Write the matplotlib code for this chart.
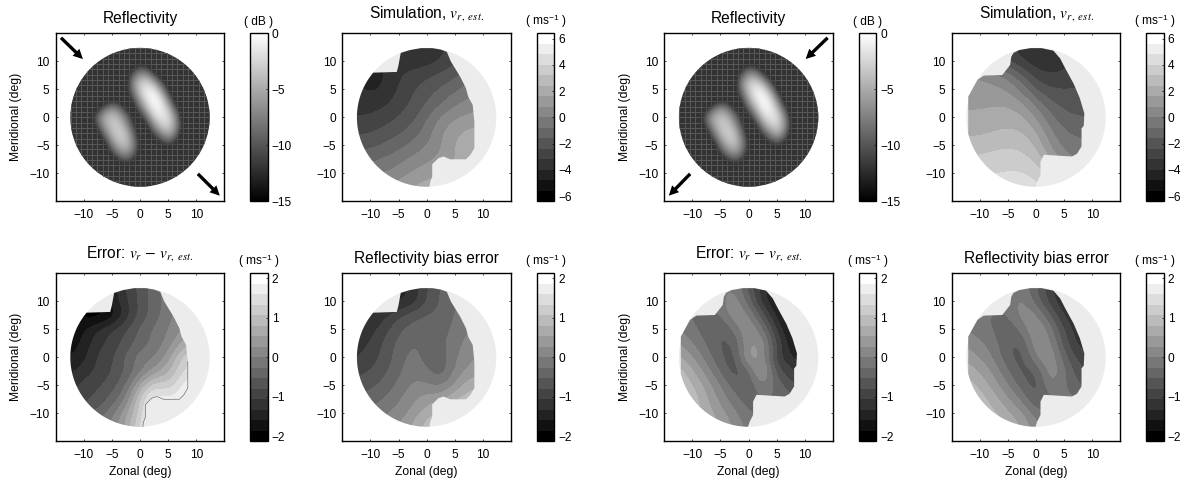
import numpy as np
import matplotlib
matplotlib.use('Agg')
import matplotlib.pyplot as plt
from matplotlib.colors import ListedColormap, Normalize
from matplotlib.cm import ScalarMappable
from matplotlib.patches import Polygon, Circle

plt.rcParams['font.family'] = ['Liberation Sans', 'DejaVu Sans']
plt.rcParams['mathtext.fontset'] = 'stix'
plt.rcParams['axes.unicode_minus'] = True

W, H = 1186, 483

# velocity grids: rows go from y=12.5 down to y=-12.5, columns x=-12.5 to 12.5
grid_step = 2.5
bg = -13

# reflectivity grid is finer: rows y=10 to y=-10, columns x=-8.75 to 8.75, step 1.25
reflect_step = 1.25
reflect = [
    [bg, bg, bg, bg, bg, bg, -13, -12.5, -13, bg, bg, bg, bg, bg, bg],
    [bg, bg, bg, bg, bg, bg, -12, -9.5, -10.5, -13, bg, bg, bg, bg, bg],
    [bg, bg, bg, bg, bg, -13, -9, -6, -6, -10, -13, bg, bg, bg, bg],
    [bg, bg, bg, bg, bg, -13, -7, -3.5, -2.5, -5, -10, bg, bg, bg, bg],
    [bg, bg, bg, bg, bg, -12.5, -8, -3, -1, -1.5, -6, -12, bg, bg, bg],
    [bg, bg, bg, bg, bg, -13, -10, -4.5, -1, -0.2, -2.5, -9, bg, bg, bg],
    [bg, bg, -12, -10, -11, -13, -12, -7, -2.5, -0.2, -1, -5.5, -12, bg, bg],
    [bg, -11.5, -7.5, -5.5, -7, -11, -13, -10, -5, -1, -0.8, -3, -9, bg, bg],
    [bg, -8.5, -5, -3.7, -4.5, -8, -12, -12.5, -8.5, -3, -1.5, -2, -6.5, -13, bg],
    [bg, -10, -5.5, -3.3, -3.2, -6, -11, bg, -11.5, -6, -3, -2.5, -6, -12, bg],
    [bg, -12.5, -7.5, -4, -2.8, -4, -9, bg, bg, -9.5, -6, -4, -7, -13, bg],
    [bg, bg, -10.5, -5.5, -3.2, -3.5, -7.5, -12.5, bg, -12, -9.5, -7.5, -10, bg, bg],
    [bg, bg, -13, -8, -4.8, -4, -7, -12, bg, bg, -12.5, -11, -12.5, bg, bg],
    [bg, bg, bg, -11, -7.5, -6, -8.5, -12.5, bg, bg, bg, bg, bg, bg, bg],
    [bg, bg, bg, -13, -11, -9.5, -11, bg, bg, bg, bg, bg, bg, bg, bg],
    [bg, bg, bg, bg, bg, -12.5, -13, bg, bg, bg, bg, bg, bg, bg, bg],
    [bg, bg, bg, bg, bg, bg, bg, bg, bg, bg, bg, bg, bg, bg, bg],
]

sim_left = [
    [-4, -4, -4, -3.8, -3.8, -3.8, -3.4, -3, -2.5, -2, -2],
    [-4, -4, -4, -3.6, -3.7, -3.6, -3.2, -2.6, -2, -1.5, -1],
    [-4, -4.2, -4.1, -3.3, -2.9, -2.6, -2.2, -1.8, -1.2, -1, -1],
    [-3.9, -4.2, -4, -3.1, -2.5, -2, -1.5, -1, -0.4, 0, 0],
    [-3.6, -3.6, -3.4, -2.8, -2.3, -1.6, -0.9, -0.2, 0.3, 0.5, 0.5],
    [-3.2, -3.1, -2.8, -2.4, -1.9, -0.9, 0.1, 0.7, 1, 1.1, 1.1],
    [-2.6, -2.5, -2.2, -1.8, -1.3, -0.5, 0.7, 1.4, 1.8, 1.9, 1.9],
    [-2, -1.8, -1.5, -1.1, -0.6, 0, 0.7, 1.7, 2.1, 2.1, 2.1],
    [-1.2, -1, -0.7, -0.3, 0.2, 0.6, 1, 1.6, 2.1, 2.1, 2.1],
    [-0.3, -0.2, 0, 0.4, 0.9, 1.3, 1.5, 1.8, 2.1, 2.1, 2.1],
    [0.5, 0.6, 0.8, 1.2, 1.7, 2, 2, 2, 2.1, 2.1, 2.1],
]

sim_right = [
    [-2, -2, -2.5, -3, -3.6, -4, -4, -3.6, -3.2, -3, -3],
    [0, -1, -2, -2.5, -3.2, -3.8, -3.8, -3.5, -3, -3, -3],
    [0.9, 0.7, 0.4, -0.3, -1.6, -2.8, -3.2, -3, -2.8, -2.6, -2.6],
    [1.2, 1.1, 1, 0.7, -0.3, -1.8, -2.3, -2.4, -2.3, -2.2, -2],
    [1.5, 1.5, 1.5, 1.5, 0.9, -0.3, -1.5, -1.9, -2, -2, -2],
    [1.7, 1.7, 1.9, 2, 1.8, 0.7, -0.6, -1.4, -1.6, -1.6, -1.6],
    [2.2, 2.2, 2.4, 2.5, 2.4, 1.6, 0.1, -0.8, -1, -1.2, -1.2],
    [2.7, 2.8, 3, 3.1, 3, 2.3, 0.7, -0.3, -0.6, -0.7, -0.7],
    [3.3, 3.4, 3.5, 3.6, 3.5, 3, 1.5, 0.3, 0, 0, 0],
    [3.8, 3.9, 4, 4.1, 4.1, 3.7, 3, 1, 0, 0, 0],
    [4.3, 4.3, 4.4, 4.4, 4.5, 4.3, 3.8, 2, 0, 0, 0],
]

err_left = [
    [-1.3, -1.5, -1.7, -1.5, -1, -0.7, -0.4, -0.1, 0.2, 0.3, 0.3],
    [-1.7, -1.9, -1.9, -1.5, -1.1, -0.7, -0.4, -0.1, 0.2, 0.4, 0.4],
    [-1.8, -2, -2.05, -1.8, -1.2, -0.7, -0.4, -0.1, 0.2, 0.4, 0.4],
    [-1.9, -1.6, -1.3, -1.05, -0.8, -0.45, -0.2, 0, 0.3, 0.5, 0.6],
    [-1.8, -1.5, -1.15, -0.95, -0.7, -0.4, -0.2, 0.1, 0.55, 0.9, 1],
    [-1.6, -1.4, -1, -0.85, -0.45, -0.1, -0.05, 0.4, 1.2, 1.4, 1.5],
    [-1.4, -1.2, -1, -0.8, -0.5, -0.1, 0.35, 0.75, 1.3, 1.6, 1.8],
    [-1.2, -0.95, -0.85, -0.65, -0.3, 0.6, 1.3, 1.1, 1.7, 1.9, 2],
    [-1, -0.9, -0.7, -0.45, 0, 1.2, 1.9, 1.6, 1.9, 2, 2],
    [-0.7, -0.6, -0.45, -0.1, 0.5, 1.2, 2.1, 2.1, 2.1, 2.1, 2.1],
    [-0.4, -0.3, -0.1, 0.1, 0.6, 1.4, 2.1, 2.1, 2.1, 2.1, 2.1],
]

bias_left = [
    [-1.1, -1.2, -1.3, -1.4, -1.3, -0.8, -0.5, -0.3, -0.2, -0.1, -0.1],
    [-1.3, -1.4, -1.5, -1.45, -1.25, -0.8, -0.5, -0.3, -0.15, -0.05, 0],
    [-1.4, -1.4, -1.15, -0.85, -0.65, -0.5, -0.45, -0.25, -0.1, 0, 0],
    [-1.35, -1.2, -0.9, -0.6, -0.4, -0.35, -0.4, -0.2, 0, 0.1, 0.1],
    [-1.2, -1.05, -0.75, -0.45, -0.25, -0.3, -0.35, -0.1, 0.1, 0.2, 0.2],
    [-1.1, -0.95, -0.7, -0.4, -0.15, -0.4, -0.45, -0.05, 0.2, 0.3, 0.3],
    [-0.9, -0.8, -0.6, -0.35, -0.05, -0.2, -0.5, 0.05, 0.35, 0.45, 0.5],
    [-0.7, -0.6, -0.45, -0.2, 0.05, 0.05, -0.1, 0.3, 0.7, 0.8, 0.8],
    [-0.5, -0.4, -0.25, -0.05, 0.2, 0.4, 0.5, 0.8, 1, 1, 1],
    [-0.3, -0.2, -0.05, 0.1, 0.35, 0.7, 0.9, 1, 1, 1, 1],
    [-0.1, 0, 0.15, 0.3, 0.6, 0.95, 1.1, 1.1, 1, 1, 1],
]

err_right = [
    [-0.3, -0.3, -0.2, -0.1, 0, -0.6, -1.2, -1.7, -2, -2, -2],
    [-0.3, -0.3, -0.2, -0.1, 0.25, -0.4, -1.2, -1.7, -2, -2, -2],
    [-0.2, -0.3, -0.4, -0.3, 0.3, 0.1, -0.7, -1.4, -1.9, -2, -2],
    [0, -0.2, -0.4, -0.6, -0.2, 0.35, -0.2, -1.1, -1.7, -2, -2],
    [0.3, 0, -0.3, -0.6, -0.55, 0.3, 0.3, -0.8, -1.5, -1.9, -2],
    [0.6, 0.3, -0.1, -0.5, -0.75, 0.55, 0.2, -1, -1.3, -1.6, -1.9],
    [1, 0.6, 0.15, -0.3, -0.75, -0.4, 0.65, -0.7, -1, -1.2, -1.4],
    [1.1, 0.85, 0.45, 0, -0.4, -0.6, 0.1, -0.35, -0.7, -1, -1],
    [1.1, 1, 0.6, 0.2, -0.2, -0.4, -0.3, -0.3, -0.4, -0.5, -0.5],
    [1.1, 1, 0.7, 0.4, 0.1, -0.3, -0.3, -0.3, -0.3, -0.3, -0.3],
    [1.1, 1, 0.8, 0.5, 0.25, -0.1, -0.1, -0.1, -0.1, -0.2, -0.2],
]

bias_right = [
    [-0.2, -0.2, -0.2, -0.1, -0.1, -0.5, -1, -1.4, -1.7, -1.8, -1.8],
    [-0.2, -0.2, -0.2, -0.1, 0.1, -0.4, -0.95, -1.3, -1.6, -1.8, -1.8],
    [-0.2, -0.2, -0.3, -0.3, 0.2, 0.1, -0.55, -1.1, -1.4, -1.6, -1.6],
    [0, -0.15, -0.3, -0.5, -0.15, 0.35, -0.1, -0.85, -1.25, -1.5, -1.6],
    [0.2, 0.05, -0.15, -0.55, -0.55, 0.3, 0.1, -0.7, -1.15, -1.3, -1.4],
    [0.45, 0.25, -0.05, -0.5, -0.7, 0.1, 0.3, -0.45, -0.9, -1.1, -1.2],
    [0.75, 0.5, 0.2, -0.25, -0.65, -0.6, 0.3, -0.2, -0.7, -0.9, -1],
    [0.95, 0.75, 0.4, 0, -0.4, -0.75, 0.1, -0.25, -0.5, -0.7, -0.8],
    [1.1, 0.95, 0.65, 0.3, -0.1, -0.6, -0.3, -0.2, -0.2, -0.4, -0.5],
    [1.2, 1.1, 0.85, 0.6, 0.35, -0.2, -0.3, -0.2, -0.2, -0.3, -0.3],
    [1.3, 1.2, 1, 0.8, 0.5, 0.1, 0, 0, -0.1, -0.2, -0.2],
]

# edge of the retrieved area, clockwise from the notch at the top left
edge_left = [(-5.3, 8.1), (-5, 9.3), (-4.6, 11.5), (-3, 12), (-1, 12.35), (1, 12.35), (2.5, 12.1),
             (3.6, 11.7), (4.3, 10), (6, 7.2), (7, 5.2), (7.4, 3.7), (8.2, 2.2), (8.5, -0.8),
             (8.5, -5.5), (7.8, -6.7), (7, -7.5), (4.2, -7.5), (3, -7), (2.1, -7.3), (1, -8.4),
             (1, -10.6), (0.65, -11.5), (0.5, -12.4)]
edge_right = [(-6, 7.55), (-4.6, 9.35), (-4.4, 10.8), (-4, 11.5), (-3, 12), (-1, 12.35), (1, 12.35),
              (3.1, 11.9), (4.3, 10.5), (5.2, 8.75), (6.7, 6), (7.8, 3.4), (8.6, 0.7), (8.5, -1.5),
              (8.1, -2), (8.1, -5.2), (7.3, -6.5), (6.4, -7), (1.4, -6.7), (0.8, -7.9), (0.8, -10.3),
              (0.2, -11.5), (-0.1, -12.4)]

ticks_main = [-10, -5, 0, 5, 10]
ticks_sim = [-6, -4, -2, 0, 2, 4, 6]
ticks_err = [-2, -1, 0, 1, 2]
ticks_db = [-15, -10, -5, 0]

arrows_left = [((-14.06, 14.2), (-10.15, 10.4)), ((10.3, -10.1), (14.2, -14))]
arrows_right = [((14.06, 14.2), (10.15, 10.4)), ((-10.4, -10.1), (-14.2, -14))]

radius = 12.4
bands = ListedColormap([str(g) for g in np.linspace(0, 1, 16)])
fill_gray = '0.925'
ms_unit = r'( ms$^{\mathregular{-1}}$ )'
err_title = r'Error: $v_{r}\,-\,v_{r,\ est.}$'
sim_title = r'Simulation, $v_{r,\ est.}$'

fig = plt.figure(figsize=(W / 100, H / 100), dpi=100)


def px_axes(x0, x1, y0, y1):
    return fig.add_axes([x0 / W, 1 - y1 / H, (x1 - x0) / W, (y1 - y0) / H])


def mask_points(edge, flat_left):
    # runs on along the circle from the end of the edge, back to its start
    x0, y0 = edge[-1]
    a0 = np.arctan2(y0, x0) % (2 * np.pi)
    pts = list(edge)
    if flat_left:
        t = np.linspace(a0, np.deg2rad(194), 30)
        pts += list(zip(radius * np.cos(t), radius * np.sin(t)))
        pts += [(-12.06, -3), (-12.06, 3.7), (-10.4, 6.7), (-9.3, 7.45)]
    else:
        t = np.linspace(a0, np.deg2rad(140), 40)
        pts += list(zip(radius * np.cos(t), radius * np.sin(t)))
    return pts


def style_main(ax, xlabel, ylabel, title, pad):
    ax.set_xlim(-15, 15)
    ax.set_ylim(-15, 15)
    ax.set_xticks(ticks_main)
    ax.set_yticks(ticks_main)
    ax.tick_params(direction='in', length=1.5, width=0.5, top=True, right=True, labelsize=8.6)
    ax.tick_params(axis='x', pad=5.5)
    ax.tick_params(axis='y', pad=4.5)
    for s in ax.spines.values():
        s.set_linewidth(1.0)
    ax.set_title(title, fontsize=11.2, pad=pad)
    if xlabel:
        ax.set_xlabel('Zonal (deg)', fontsize=8.7, va='center')
        ax.xaxis.set_label_coords(0.5, -0.18)
    if ylabel:
        ax.set_ylabel('Meridional (deg)', fontsize=8.7, va='center')
        ax.yaxis.set_label_coords(-0.235, 0.5)


def add_cbar(x0, x1, y0, y1, cmap, norm, ticks, unit):
    cax = px_axes(x0, x1, y0, y1)
    cb = fig.colorbar(ScalarMappable(norm=norm, cmap=cmap), cax=cax, ticks=ticks)
    cb.outline.set_linewidth(1.0)
    cax.tick_params(direction='in', length=1.5, width=0.5, labelsize=8.6, pad=3)
    cax.text(0.5, 1.05, unit, transform=cax.transAxes, ha='center', va='baseline', fontsize=8.6)


def velocity_panel(x0, y0, values, edge, flat_left, vmax, ticks, title, pad, xlabel, ylabel, outline=None):
    ax = px_axes(x0, x0 + 168.6, y0, y0 + 168)
    ax.add_patch(Circle((0, 0), radius, fc=fill_gray, ec='none', zorder=1))
    norm = Normalize(-vmax, vmax)
    half = 5 * grid_step + grid_step / 2
    im = ax.imshow(values, extent=(-half, half, -half, half), cmap=bands, norm=norm,
                   interpolation='bicubic', interpolation_stage='data', aspect='auto', zorder=2)
    clip = Polygon(mask_points(edge, flat_left), closed=True, transform=ax.transData, fc='none', ec='none')
    ax.add_patch(clip)
    im.set_clip_path(clip)
    if outline is not None:
        ax.plot([p[0] for p in outline], [p[1] for p in outline], color='0.45', lw=0.5, zorder=3)
    style_main(ax, xlabel, ylabel, title, pad)
    add_cbar(x0 + 194.7, x0 + 212, y0, y0 + 168, bands, norm, ticks, ms_unit)
    return ax


def reflect_panel(x0, y0, arrows):
    ax = px_axes(x0, x0 + 168.6, y0, y0 + 168)
    disc = Circle((0, 0), radius, fc='0.2', ec='none', zorder=1)
    ax.add_patch(disc)
    for v in np.arange(-14.25, 14.3, 0.95):
        l1 = ax.axvline(v, color='0.34', lw=0.72, zorder=1.5)
        l2 = ax.axhline(v, color='0.34', lw=0.72, zorder=1.5)
        l1.set_clip_path(disc)
        l2.set_clip_path(disc)
    # low values see-through so the mesh of the no-signal area stays visible
    t = np.linspace(0, 1, 256)
    rgba = np.column_stack([t, t, t, np.clip((t - 0.15) / 0.2, 0, 1)])
    norm = Normalize(-15, 0)
    hx = 7 * reflect_step + reflect_step / 2
    hy = 8 * reflect_step + reflect_step / 2
    im = ax.imshow(reflect, extent=(-hx, hx, -hy, hy), cmap=ListedColormap(rgba), norm=norm,
                   interpolation='bicubic', interpolation_stage='data', aspect='auto', zorder=2)
    im.set_clip_path(disc)
    for start, end in arrows:
        ax.annotate('', xy=end, xytext=start, zorder=4, annotation_clip=False,
                    arrowprops=dict(width=2.4, headwidth=7, headlength=7, fc='k', ec='k', lw=0, shrink=0))
    style_main(ax, False, True, 'Reflectivity', 7.5)
    add_cbar(x0 + 194.3, x0 + 212, y0, y0 + 168, 'gray', norm, ticks_db, '( dB )')


top, bottom = 33.3, 273.3
outline_err = edge_left[13:]

reflect_panel(55.7, top, arrows_left)
velocity_panel(342.3, top, sim_left, edge_left, False, 6.4, ticks_sim, sim_title, 11.5, False, False)
velocity_panel(55.7, bottom, err_left, edge_left, False, 2.13, ticks_err, err_title, 11.5, True, True, outline_err)
velocity_panel(342.3, bottom, bias_left, edge_left, False, 2.13, ticks_err, 'Reflectivity bias error', 7.5, True, False)
reflect_panel(664.3, top, arrows_right)
velocity_panel(951.7, top, sim_right, edge_right, True, 6.4, ticks_sim, sim_title, 11.5, False, False)
velocity_panel(664.3, bottom, err_right, edge_right, True, 2.13, ticks_err, err_title, 11.5, True, True)
velocity_panel(951.7, bottom, bias_right, edge_right, True, 2.13, ticks_err, 'Reflectivity bias error', 7.5, True, False)

fig.savefig('out.png', dpi=100)
